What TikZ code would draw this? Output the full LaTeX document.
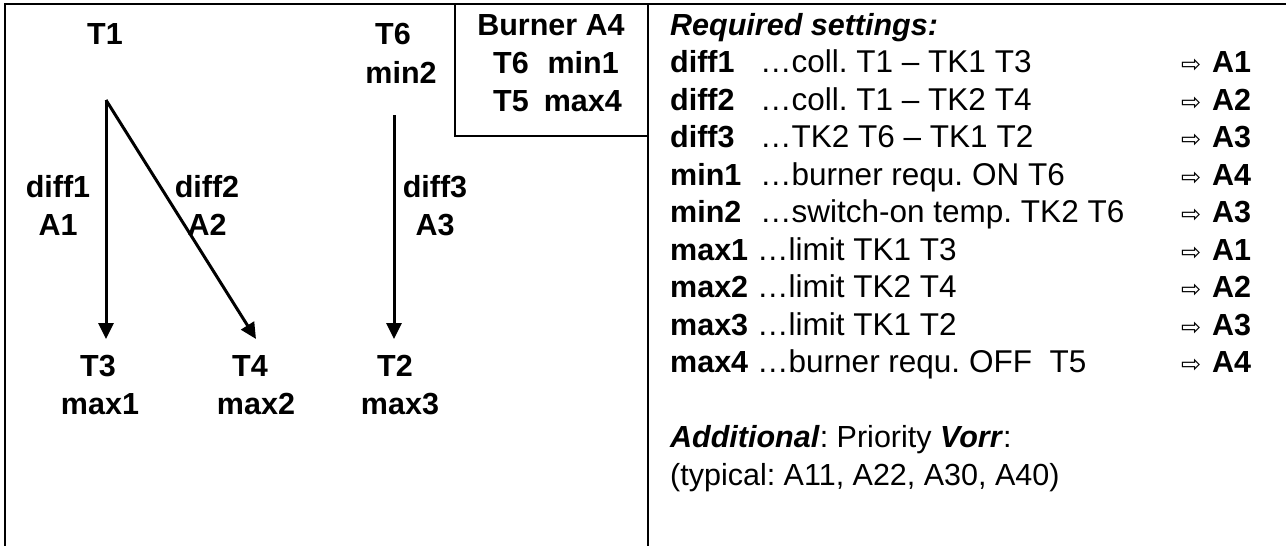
\documentclass[tikz,border=0pt]{standalone}
\usepackage{fontspec}
\setmainfont{Liberation Sans}
\newfontfamily\symfont{DejaVu Sans}
\usetikzlibrary{arrows.meta}
\begin{document}
\frenchspacing
\begin{tikzpicture}[x=1pt,y=-1pt,
  lab/.style={font=\fontsize{30.5}{37.5}\selectfont\bfseries, inner sep=0pt, anchor=base},
  labw/.style={lab, anchor=base west},
  labe/.style={lab, anchor=base east},
  txt/.style={font=\fontsize{30.5}{37.5}\selectfont, inner sep=0pt, anchor=base west},
  desc/.style={font=\fontsize{31.5}{37.5}\selectfont, inner sep=0pt, anchor=base west},
  arr/.style={font=\fontsize{24}{24}\symfont, inner sep=0pt, anchor=base west},
  flow/.style={line width=3pt, -{Triangle[length=16pt,width=15pt]}},
  frame/.style={line width=2pt}]
\useasboundingbox (0,0) rectangle (1286,546);
% frame
\draw[frame] (5,546) -- (5,4) -- (1286,4);
\draw[frame] (648,4) -- (648,546);
\draw[frame] (455,4) -- (455,136) -- (648,136);
% burner box
\node[lab] (burner) at (551,35) {Burner A4};
\node[labw] (bt6) at (493,73) {T6};
\node[labe] (bmin1) at (619,73) {min1};
\node[labw] (bt5) at (493,111) {T5};
\node[labe] (bmax4) at (622,111) {max4};
% left diagram
\node[lab] (t1) at (105,45) {T1};
\node[lab] (t6) at (393,45) {T6};
\node[lab] (min2) at (401,83) {min2};
\node[lab] (diff1) at (58,197) {diff1};
\node[lab] (a1) at (58,235) {A1};
\node[lab] (diff2) at (207,197) {diff2};
\node[lab] (a2) at (207,235) {A2};
\node[lab] (diff3) at (435,197) {diff3};
\node[lab] (a3) at (435,235) {A3};
\node[lab] (t3) at (98,376) {T3};
\node[lab] (max1) at (100,414) {max1};
\node[lab] (t4) at (250,376) {T4};
\node[lab] (max2) at (256,414) {max2};
\node[lab] (t2) at (395,376) {T2};
\node[lab] (max3) at (400,414) {max3};
\coordinate (s1) at (106,100);
\coordinate (e1) at (106,339);
\coordinate (e2) at (256,339);
\coordinate (s3) at (394,115);
\coordinate (e3) at (394,339);
\draw[flow] (s1) -- (e1);
\draw[flow] (s1) -- (e2);
\draw[flow] (s3) -- (e3);
% right column
\node[labw] (req) at (670,35) {\textit{Required settings:}};
\node[labw] (kd1) at (670,72.5) {diff1};
\node[desc] (dd1) at (760,72.5) {…coll. T1 – TK1 T3};
\node[arr] (pd1) at (1181,72.5) {⇨};
\node[labw] (ad1) at (1212,72.5) {A1};
\node[labw] (kd2) at (670,110) {diff2};
\node[desc] (dd2) at (760,110) {…coll. T1 – TK2 T4};
\node[arr] (pd2) at (1181,110) {⇨};
\node[labw] (ad2) at (1212,110) {A2};
\node[labw] (kd3) at (670,147.5) {diff3};
\node[desc] (dd3) at (760,147.5) {…TK2 T6 – TK1 T2};
\node[arr] (pd3) at (1181,147.5) {⇨};
\node[labw] (ad3) at (1212,147.5) {A3};
\node[labw] (kn1) at (670,185) {min1};
\node[desc] (dn1) at (760,185) {…burner requ. ON T6};
\node[arr] (pn1) at (1181,185) {⇨};
\node[labw] (an1) at (1212,185) {A4};
\node[labw] (kn2) at (670,222.5) {min2};
\node[desc] (dn2) at (760,222.5) {…switch-on temp. TK2 T6};
\node[arr] (pn2) at (1181,222.5) {⇨};
\node[labw] (an2) at (1212,222.5) {A3};
\node[labw] (kx1) at (670,260) {max1};
\node[desc] (dx1) at (757,260) {…limit TK1 T3};
\node[arr] (px1) at (1181,260) {⇨};
\node[labw] (ax1) at (1212,260) {A1};
\node[labw] (kx2) at (670,297.5) {max2};
\node[desc] (dx2) at (757,297.5) {…limit TK2 T4};
\node[arr] (px2) at (1181,297.5) {⇨};
\node[labw] (ax2) at (1212,297.5) {A2};
\node[labw] (kx3) at (670,335) {max3};
\node[desc] (dx3) at (757,335) {…limit TK1 T2};
\node[arr] (px3) at (1181,335) {⇨};
\node[labw] (ax3) at (1212,335) {A3};
\node[labw] (kx4) at (670,372.5) {max4};
\node[desc] (dx4) at (757,372.5) {…burner requ. OFF\ \ T5};
\node[arr] (px4) at (1181,372.5) {⇨};
\node[labw] (ax4) at (1212,372.5) {A4};
\node[txt] (add) at (670,447.5) {\textbf{\textit{Additional}}: Priority \textbf{\textit{Vorr}}:};
\node[txt] (typ) at (670,485) {(typical: A11, A22, A30, A40)};
\end{tikzpicture}
\end{document}
